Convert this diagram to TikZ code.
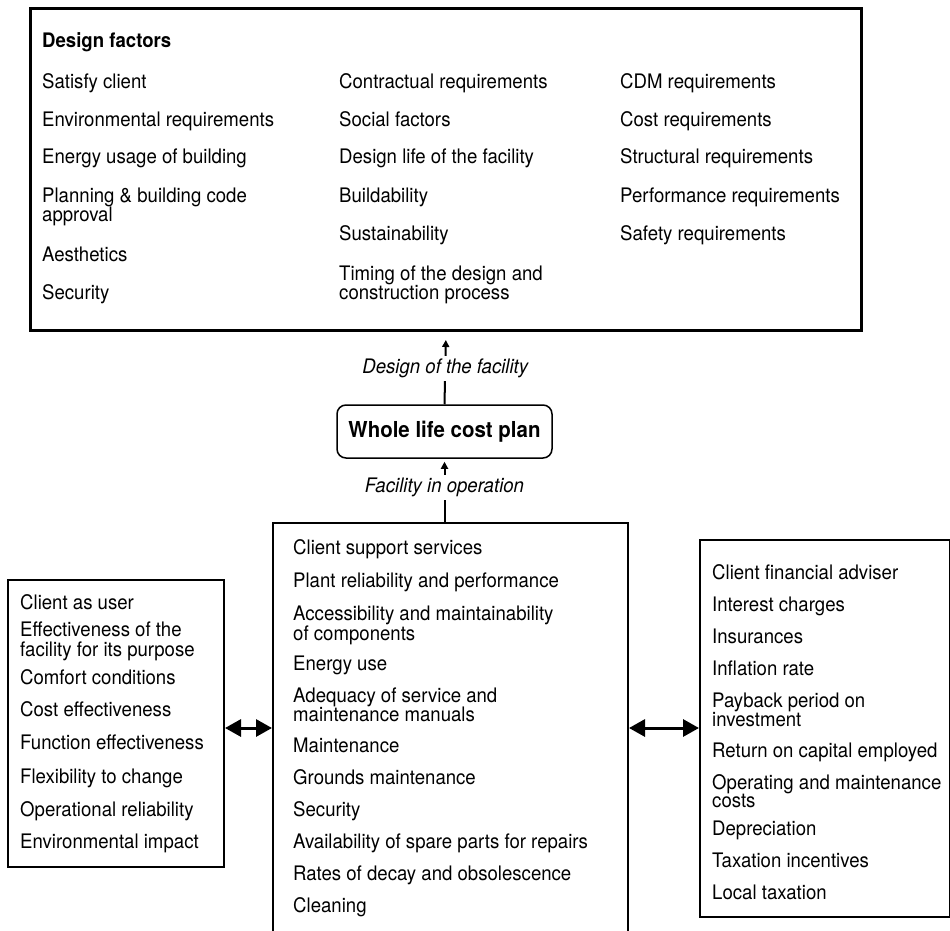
\documentclass[tikz,border=0pt]{standalone}
\usepackage{fontspec}
\setmainfont{TeX Gyre Heros}[FakeStretch=0.93]
\usetikzlibrary{arrows.meta}
% an item that runs over two lines, aligned on the baseline of its first line
\newcommand{\twoline}[2]{\begin{tabular}[t]{@{}l@{}}#1\\#2\end{tabular}}

\begin{document}
\begin{tikzpicture}[x=1pt,y=-1pt,
  frame/.style={draw, line width=2pt, anchor=north west, inner sep=0pt},
  item/.style={anchor=base west, inner sep=0pt, font=\fontsize{20}{18}\selectfont},
  heading/.style={item, font=\fontsize{20}{18}\selectfont\bfseries},
  planbox/.style={draw, line width=1.5pt, rounded corners=9pt, minimum width=215pt,
    minimum height=53pt, inner sep=0pt, font=\fontsize{22}{22}\selectfont\bfseries},
  flowlabel/.style={fill=white, inner sep=3pt, font=\fontsize{20}{18}\selectfont\itshape},
  flow/.style={line width=2pt, -{Triangle[length=7pt,width=7pt]}},
  link/.style={line width=3pt, {Triangle[length=16pt,width=17pt]}-{Triangle[length=16pt,width=17pt]}}]

\useasboundingbox (0,0) rectangle (950,931);
\clip (0,0) rectangle (950,931);

% ---------- boxes ----------
\node[frame, line width=3pt, minimum width=831pt, minimum height=322pt] (design) at (29,7) {};
\node[frame, minimum width=216pt, minimum height=287pt] (user) at (7,579) {};
\node[frame, minimum width=355pt, minimum height=440pt] (operation) at (272,522) {};
\node[frame, minimum width=250pt, minimum height=377pt] (finance) at (699,539) {};
\node[planbox] (plan) at (444.5,431.5) {Whole life cost plan};

% ---------- design factors ----------
\node[heading] (dfhead) at (42,48) {Design factors};

\node[item] (d1) at (42,89)  {Satisfy client};
\node[item] (d2) at (42,127) {Environmental requirements};
\node[item] (d3) at (42,164) {Energy usage of building};
\node[item] (d4) at (42,202) {\twoline{Planning \& building code}{approval}};
\node[item] (d5) at (42,261) {Aesthetics};
\node[item] (d6) at (42,299) {Security};

\node[item] (d7)  at (339,89)  {Contractual requirements};
\node[item] (d8)  at (339,127) {Social factors};
\node[item] (d9)  at (339,164) {Design life of the facility};
\node[item] (d10) at (339,202) {Buildability};
\node[item] (d11) at (339,240) {Sustainability};
\node[item] (d12) at (339,280) {\twoline{Timing of the design and}{construction process}};

\node[item] (d13) at (620,89)  {CDM requirements};
\node[item] (d14) at (620,127) {Cost requirements};
\node[item] (d15) at (620,164) {Structural requirements};
\node[item] (d16) at (620,202) {Performance requirements};
\node[item] (d17) at (620,240) {Safety requirements};

% ---------- client as user ----------
\node[item] (u1) at (20,609) {Client as user};
\node[item] (u2) at (20,636) {\twoline{Effectiveness of the}{facility for its purpose}};
\node[item] (u3) at (20,684) {Comfort conditions};
\node[item] (u4) at (20,716) {Cost effectiveness};
\node[item] (u5) at (20,749) {Function effectiveness};
\node[item] (u6) at (20,783) {Flexibility to change};
\node[item] (u7) at (20,816) {Operational reliability};
\node[item] (u8) at (20,848) {Environmental impact};

% ---------- facility in operation ----------
\node[item] (o1)  at (293,554) {Client support services};
\node[item] (o2)  at (293,587) {Plant reliability and performance};
\node[item] (o3)  at (293,620) {\twoline{Accessibility and maintainability}{of components}};
\node[item] (o4)  at (293,670) {Energy use};
\node[item] (o5)  at (293,702) {\twoline{Adequacy of service and}{maintenance manuals}};
\node[item] (o6)  at (293,752) {Maintenance};
\node[item] (o7)  at (293,784) {Grounds maintenance};
\node[item] (o8)  at (293,816) {Security};
\node[item] (o9)  at (293,848) {Availability of spare parts for repairs};
\node[item] (o10) at (293,880) {Rates of decay and obsolescence};
\node[item] (o11) at (293,912) {Cleaning};

% ---------- client financial adviser ----------
\node[item] (f1)  at (712,579) {Client financial adviser};
\node[item] (f2)  at (712,611) {Interest charges};
\node[item] (f3)  at (712,643) {Insurances};
\node[item] (f4)  at (712,675) {Inflation rate};
\node[item] (f5)  at (712,707) {\twoline{Payback period on}{investment}};
\node[item] (f6)  at (712,757) {Return on capital employed};
\node[item] (f7)  at (712,789) {\twoline{Operating and maintenance}{costs}};
\node[item] (f8)  at (712,835) {Depreciation};
\node[item] (f9)  at (712,867) {Taxation incentives};
\node[item] (f10) at (712,899) {Local taxation};

% ---------- connectors ----------
\draw[flow, shorten >=8pt] (plan.north) -- (design.south)
  node[flowlabel, midway] (lbl1) {Design of the facility};
\draw[flow, shorten >=3pt] (plan.south |- operation.north) -- (plan.south)
  node[flowlabel, pos=0.55] (lbl2) {Facility in operation};

\coordinate (linkrow) at (0,728);
\draw[link] (user.east |- linkrow) -- (operation.west |- linkrow);
\draw[link] (operation.east |- linkrow) -- (finance.west |- linkrow);
\end{tikzpicture}
\end{document}
